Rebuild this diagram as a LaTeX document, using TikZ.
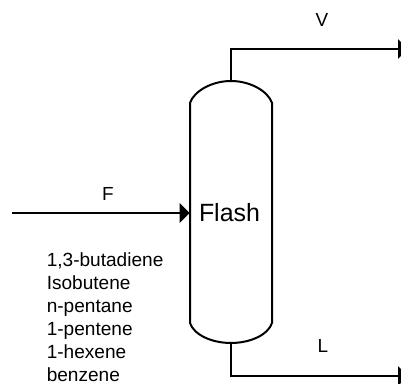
\documentclass[tikz,border=0pt]{standalone}
\usepackage{fontspec}
\setmainfont{Liberation Sans}
\usetikzlibrary{arrows.meta}
\tikzset{
  pipe/.style={line width=1.5pt},
  flow/.style={pipe,-{Triangle[length=7.5pt,width=14.5pt]}},
  vessel/.style={line width=1.5pt},
  lab/.style={inner sep=0pt,font=\fontsize{14.2pt}{17pt}\selectfont},
  comp/.style={inner sep=0pt,align=left,anchor=north west,font=\fontsize{14.3pt}{17.25pt}\selectfont}
}
\begin{document}
\begin{tikzpicture}[x=0.75pt,y=-0.75pt]
\useasboundingbox (0,0) rectangle (401,384);
\clip (0,0) rectangle (401,384);
\fill[white] (0,0) rectangle (401,384);
\draw[vessel] (190,103) .. controls (194,91) and (212,81) .. (231,81)
  .. controls (250,81) and (268,91) .. (272,103)
  -- (272,323) .. controls (268,335) and (250,343) .. (231,343)
  .. controls (212,343) and (194,335) .. (190,323) -- cycle;
\node[inner sep=0pt,minimum width=61.5pt,minimum height=196.5pt] (flash) at (231,212) {};
\node[inner sep=0pt,font=\fontsize{18.7pt}{22pt}\selectfont] (flashlab) at (229.5,213) {Flash};
\coordinate (feed) at (12,213);
\coordinate (vout) at (408,49);
\coordinate (lout) at (408,376);
\draw[flow] (feed) -- (flash.west |- feed);
\draw[flow] (flash.north) |- (vout);
\draw[flow] (flash.south) |- (lout);
\node[lab] (vlab) at (322,20) {V};
\node[lab] (flab) at (108,194) {F};
\node[lab] (llab) at (323,346) {L};
\node[comp] (comps) at (46.5,252) {1,3-butadiene\\Isobutene\\n-pentane\\1-pentene\\1-hexene\\benzene};
\end{tikzpicture}
\end{document}
